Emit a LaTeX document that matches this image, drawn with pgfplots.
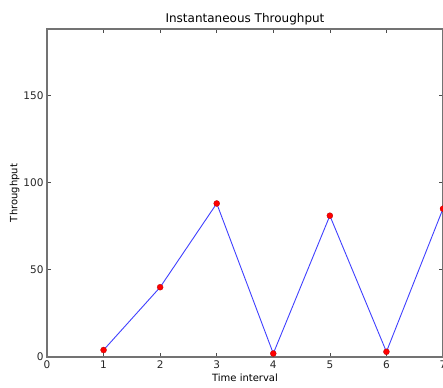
\documentclass[border=0pt]{standalone}
\usepackage{pgfplots}
\pgfplotsset{compat=1.18}
\usepackage{fontspec}
\setmainfont{DejaVu Sans}
\begin{document}
\begin{tikzpicture}
\begin{axis}[name=ax, scale only axis, width=396pt, height=328pt,
  xmin=0, xmax=7, ymin=0, ymax=188,
  xtick={0,1,...,7}, ytick={0,50,100,150},
  tick align=inside, major tick length=4pt,
  tick style={black!70, line width=0.6pt},
  axis line style={black!55, line width=1.2pt},
  ticklabel style={font=\fontsize{10.5}{12}\selectfont, text=black!85},
  /pgf/number format/assume math mode=true,
  title={Instantaneous Throughput},
  title style={font=\fontsize{12}{14}\selectfont, yshift=-6pt},
  xlabel={Time interval}, ylabel={Throughput},
  xlabel style={font=\fontsize{10}{12}\selectfont, yshift=1pt},
  ylabel style={font=\fontsize{10}{12}\selectfont, yshift=-3pt},
  clip=false]
\addplot[blue!75, line width=0.9pt, mark=*, mark size=3pt,
  mark options={fill=red, draw=red!70!black, line width=0.3pt}]
  coordinates {(1,4) (2,40) (3,88) (4,2) (5,81) (6,3) (7,85)};
\end{axis}
\pgfresetboundingbox
\path ([shift={(-47pt,-30pt)}]ax.south west) rectangle ([shift={(0pt,29pt)}]ax.north east);
\end{tikzpicture}
\end{document}
